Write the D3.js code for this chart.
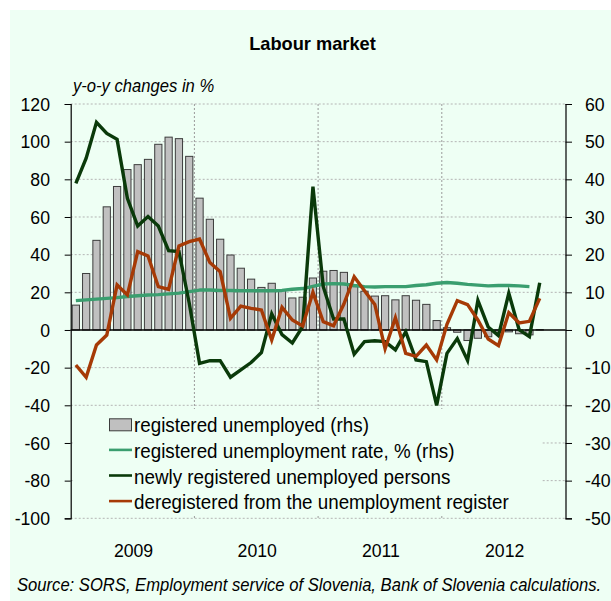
<!DOCTYPE html>
<html>
<head>
<meta charset="utf-8">
<script src="https://cdn.jsdelivr.net/npm/d3@7"></script>
<style>
  html, body { margin: 0; padding: 0; background: #ffffff; }
  svg { display: block; }
  text { font-family: "Liberation Sans", Arial, sans-serif; fill: #000; }
</style>
</head>
<body>
<svg id="chart" width="611" height="601"></svg>
<script>
// Months on the horizontal axis (Jan 2009 - Dec 2012)
const axisMonths = [
  "2009-01","2009-02","2009-03","2009-04","2009-05","2009-06","2009-07","2009-08","2009-09","2009-10","2009-11","2009-12",
  "2010-01","2010-02","2010-03","2010-04","2010-05","2010-06","2010-07","2010-08","2010-09","2010-10","2010-11","2010-12",
  "2011-01","2011-02","2011-03","2011-04","2011-05","2011-06","2011-07","2011-08","2011-09","2011-10","2011-11","2011-12",
  "2012-01","2012-02","2012-03","2012-04","2012-05","2012-06","2012-07","2012-08","2012-09","2012-10","2012-11","2012-12"
];
const years = ["2009", "2010", "2011", "2012"];

// Registered unemployed, y-o-y % (right axis), Jan 2009 - Oct 2012
const registeredUnemployed = [
  6.6, 15.0, 23.8, 32.7, 38.1, 42.6, 43.9, 45.3, 49.3, 51.2, 50.8, 46.1,
  35.0, 29.4, 24.1, 19.9, 16.4, 13.5, 11.3, 12.4, 10.5, 8.5, 8.7, 13.8,
  15.6, 15.8, 15.3, 11.5, 10.3, 9.0, 9.1, 8.0, 9.1, 7.9, 6.8, 2.5,
  0.6, -0.6, -2.8, -2.2, -1.8, -0.6, -0.5, -1.0, -1.3, 0.1
];
// Registered unemployment rate, % (right axis), Jan 2009 - Sep 2012
const unemploymentRate = [
  7.8, 8.0, 8.2, 8.4, 8.6, 8.9, 9.1, 9.3, 9.4, 9.6, 9.8, 10.2,
  10.6, 10.6, 10.5, 10.5, 10.4, 10.4, 10.4, 10.4, 10.5, 10.8, 11.0, 11.6,
  12.2, 12.3, 12.2, 11.8, 11.5, 11.4, 11.5, 11.5, 11.5, 11.8, 12.0, 12.4,
  12.6, 12.4, 12.1, 11.9, 11.7, 11.8, 11.8, 11.7, 11.5
];
// Newly registered unemployed persons, y-o-y % (left axis)
const newlyRegistered = [
  77.9, 91.2, 110.3, 104.4, 101.2, 69.9, 55.2, 60.2, 55.2, 42.1, 41.6, 14.2,
  -17.7, -16.3, -16.3, -25.1, -21.2, -17.3, -12.0, 8.6, -2.5, -6.9, 1.8, 76.1,
  23.0, 5.8, 5.8, -12.9, -6.2, -5.7, -6.2, -10.6, -0.9, -15.9, -16.8, -40.0,
  -12.4, -4.6, -16.2, 15.7, 1.6, -3.0, 19.5, 0.2, -3.5, 25.1
];
// Deregistered from the unemployment register, y-o-y % (left axis)
const deregistered = [
  -18.6, -25.1, -8.0, -2.7, 23.9, 18.6, 41.6, 39.3, 23.0, 21.6, 44.6, 46.9,
  48.3, 35.8, 31.0, 6.2, 12.7, 11.5, 10.6, -5.3, 12.0, 5.3, 2.1, 20.0,
  4.4, 2.2, 13.8, 28.3, 20.8, 13.6, -10.0, 6.5, -12.4, -14.0, -8.0, -15.9,
  3.0, 15.6, 13.5, 5.3, -4.8, -8.3, 9.2, 3.8, 4.6, 16.8
];
const leftTicks = [-100, -80, -60, -40, -20, 0, 20, 40, 60, 80, 100, 120];
const rightTicks = [-50, -40, -30, -20, -10, 0, 10, 20, 30, 40, 50, 60];

const legendItems = [
  { label: "registered unemployed (rhs)", kind: "bar" },
  { label: "registered unemployment rate, % (rhs)", kind: "line", color: "#3a9e6f" },
  { label: "newly registered unemployed persons", kind: "line", color: "#0a3a0a" },
  { label: "deregistered from the unemployment register", kind: "line", color: "#a63a06" }
];

const BG = "#eefff4";
const COL_RATE = "#3a9e6f", COL_NEW = "#0a3a0a", COL_DEREG = "#a63a06";

const svg = d3.select("#chart");
const W = 611, H = 601;
const plot = { left: 70.7, right: 565.5, top: 104, bottom: 518.3 };

// background panel
svg.append("rect").attr("x", 10).attr("y", 10).attr("width", W - 10).attr("height", H - 10).attr("fill", BG);

const x = d3.scaleBand().domain(axisMonths).range([plot.left, plot.right])
  .paddingInner(0.3).paddingOuter(0.15);
const step = x.step();
const bandStart = m => x(m) - step * x.paddingInner() / 2;
const cx = m => x(m) + x.bandwidth() / 2;

const yL = d3.scaleLinear().domain([-100, 120]).range([plot.bottom, plot.top]);
const yR = d3.scaleLinear().domain([-50, 60]).range([plot.bottom, plot.top]);

// helper for slightly condensed text
function txt(parent, x0, y0, s, opt = {}) {
  const sx = opt.sx ?? 0.93;
  return parent.append("text")
    .attr("transform", `translate(${x0},${y0}) scale(${sx},1)`)
    .attr("text-anchor", opt.anchor || "start")
    .style("font-size", (opt.size || 19) + "px")
    .style("font-weight", opt.weight || "normal")
    .style("font-style", opt.italic ? "italic" : "normal")
    .text(s);
}

// horizontal grid
svg.append("g").selectAll("line").data(leftTicks.filter(v => v !== 0)).join("line")
  .attr("x1", plot.left).attr("x2", plot.right)
  .attr("y1", d => yL(d)).attr("y2", d => yL(d))
  .attr("stroke", "#b4b4b4").attr("stroke-width", 1).attr("stroke-dasharray", "2,2");

// vertical year grid
svg.append("g").selectAll("line").data(years.slice(1)).join("line")
  .attr("x1", d => bandStart(d + "-01")).attr("x2", d => bandStart(d + "-01"))
  .attr("y1", plot.top).attr("y2", plot.bottom)
  .attr("stroke", "#9a9a9a").attr("stroke-width", 1).attr("stroke-dasharray", "2,2");

const months = axisMonths.slice(0, registeredUnemployed.length);

// bars (right axis)
svg.append("g").selectAll("rect").data(registeredUnemployed).join("rect")
  .attr("x", (d, i) => x(months[i]))
  .attr("width", x.bandwidth())
  .attr("y", d => Math.min(yR(d), yR(0)))
  .attr("height", d => Math.abs(yR(d) - yR(0)))
  .attr("fill", "#c0c0c0").attr("stroke", "#3c3c3c").attr("stroke-width", 1);

// zero line
svg.append("line").attr("x1", plot.left).attr("x2", plot.right)
  .attr("y1", yL(0)).attr("y2", yL(0)).attr("stroke", "#000").attr("stroke-width", 1.3);

// lines
const lineOf = (scale) => d3.line().x((d, i) => cx(axisMonths[i])).y(d => scale(d));
svg.append("path").datum(unemploymentRate).attr("d", lineOf(yR))
  .attr("fill", "none").attr("stroke", COL_RATE).attr("stroke-width", 3.4).attr("stroke-linejoin", "round");
svg.append("path").datum(newlyRegistered).attr("d", lineOf(yL))
  .attr("fill", "none").attr("stroke", COL_NEW).attr("stroke-width", 3.4).attr("stroke-linejoin", "miter");
svg.append("path").datum(deregistered).attr("d", lineOf(yL))
  .attr("fill", "none").attr("stroke", COL_DEREG).attr("stroke-width", 3.4).attr("stroke-linejoin", "miter");

// legend
const lg = svg.append("g");
lg.append("rect").attr("x", 74).attr("y", 409).attr("width", 467).attr("height", 106).attr("fill", BG);
legendItems.forEach((it, i) => {
  const base = 432.3 + i * 25.6;
  if (it.kind === "bar") {
    lg.append("rect").attr("x", 109.5).attr("y", base - 13.5).attr("width", 22).attr("height", 12)
      .attr("fill", "#c0c0c0").attr("stroke", "#3c3c3c").attr("stroke-width", 1);
  } else {
    lg.append("line").attr("x1", 109).attr("x2", 132).attr("y1", base - 8).attr("y2", base - 8)
      .attr("stroke", it.color).attr("stroke-width", 2.6);
  }
  txt(lg, 134, base, it.label, { size: 20, sx: 0.94 });
});

// left axis
const axL = svg.append("g").attr("transform", `translate(${plot.left},0)`)
  .call(d3.axisLeft(yL).tickValues(leftTicks).tickSize(6).tickPadding(0).tickFormat(d3.format("d")));
axL.select(".domain").attr("stroke", "#000").attr("stroke-width", 1.2);
axL.selectAll(".tick line").attr("stroke", "#000").attr("stroke-width", 1);
axL.selectAll(".tick text").remove();
leftTicks.forEach(v => txt(svg, 50, yL(v) + 6.8, String(v), { anchor: "end", size: 19 }));

// right axis
const axR = svg.append("g").attr("transform", `translate(${plot.right},0)`)
  .call(d3.axisRight(yR).tickValues(rightTicks).tickSize(6.5).tickPadding(0).tickFormat(d3.format("d")));
axR.select(".domain").attr("stroke", "#000").attr("stroke-width", 1.2);
axR.selectAll(".tick line").attr("stroke", "#000").attr("stroke-width", 1);
axR.selectAll(".tick text").remove();
rightTicks.forEach(v => txt(svg, 585, yR(v) + 6.8, String(v), { anchor: "start", size: 19 }));

// year labels
years.forEach(yr => {
  const mid = bandStart(yr + "-07");
  txt(svg, mid + 1, 557, yr, { anchor: "middle", size: 19 });
});

// titles and source
txt(svg, 312.5, 50, "Labour market", { anchor: "middle", size: 19, weight: "bold", sx: 0.96 });
txt(svg, 73, 92, "y-o-y changes in %", { size: 17.5, italic: true, sx: 0.95 });
txt(svg, 17, 591, "Source: SORS, Employment service of Slovenia, Bank of Slovenia calculations.", { size: 17.5, italic: true, sx: 0.95 });
</script>
</body>
</html>
